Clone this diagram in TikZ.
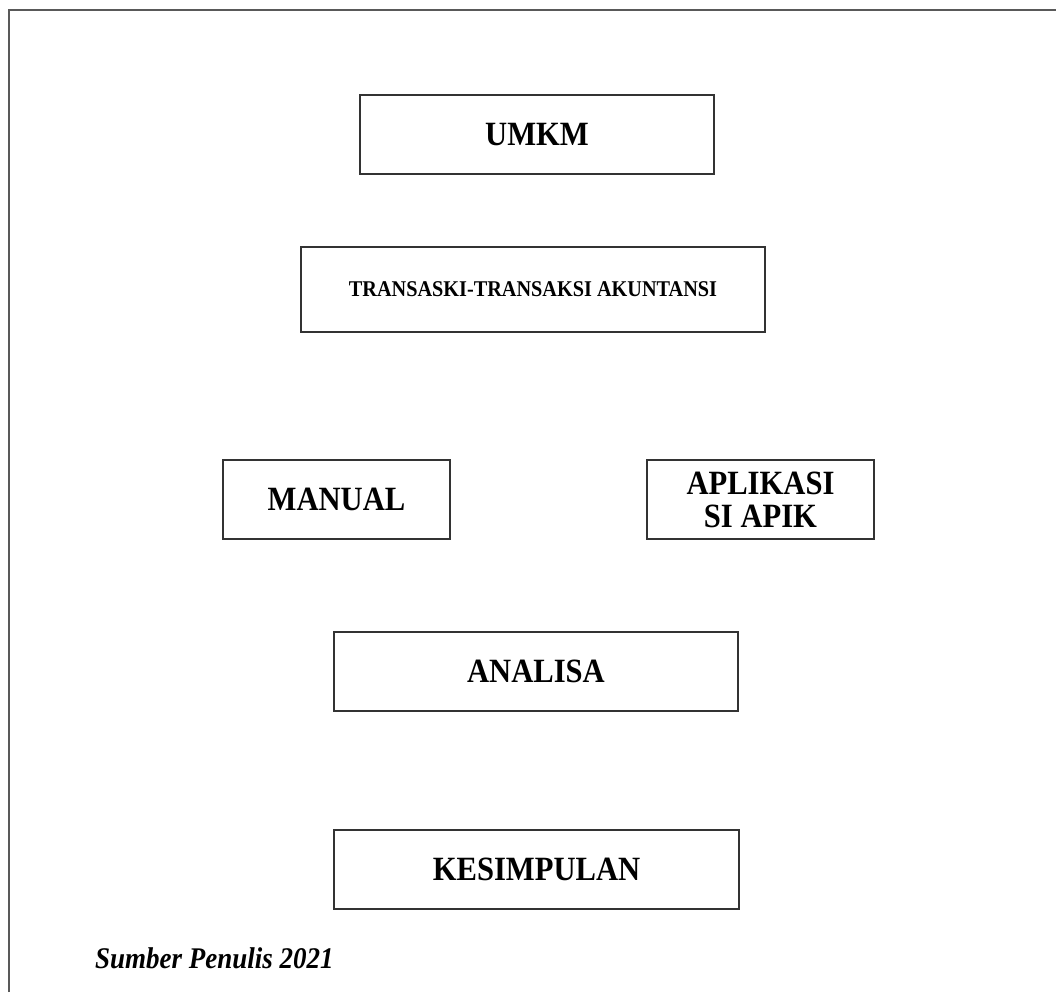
\documentclass[tikz,border=0pt]{standalone}
\usepackage{fontspec}
\setmainfont{Liberation Serif}
\newfontfamily\condserif[FakeStretch=0.9]{Liberation Serif}
\tikzset{
  box/.style={draw=black!80, line width=1.6pt, rectangle, inner sep=0pt, align=center,
    font=\condserif\bfseries\fontsize{34}{33}\selectfont},
  smallbox/.style={box, font=\condserif\bfseries\fontsize{22.5}{24}\selectfont},
  frame/.style={draw=black!65, line width=2pt},
  source/.style={font=\condserif\bfseries\itshape\fontsize{30}{32}\selectfont, inner sep=0pt, anchor=base west}
}
\begin{document}
\begin{tikzpicture}[x=1pt,y=-1pt]
\useasboundingbox (0,0) rectangle (1056,992);
\fill[white] (0,0) rectangle (1056,992);
\draw[frame] (8.5,992) -- (8.5,10) -- (1056,10);
\node[box, minimum width=354pt, minimum height=79pt] (umkm) at (537,134.5) {UMKM};
\node[smallbox, minimum width=464pt, minimum height=85pt] (trans) at (533,289.5) {TRANSASKI-TRANSAKSI AKUNTANSI};
\node[box, minimum width=227pt, minimum height=79pt] (manual) at (336.5,499.5) {MANUAL};
\node[box, minimum width=227pt, minimum height=79pt] (apik) at (760.5,499.5) {APLIKASI\\SI APIK};
\node[box, minimum width=404pt, minimum height=79pt] (analisa) at (536,671.5) {ANALISA};
\node[box, minimum width=405pt, minimum height=79pt] (kesimpulan) at (536.5,869.5) {KESIMPULAN};
\node[source] (sumber) at (95,968) {Sumber Penulis 2021};
\end{tikzpicture}
\end{document}
